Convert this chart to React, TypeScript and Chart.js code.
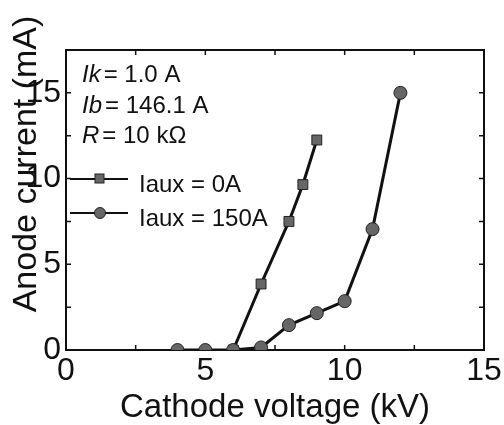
import { useEffect, useRef } from 'react';
import { Chart, registerables } from 'chart.js';

Chart.register(...registerables);

// Anode current vs cathode voltage for two auxiliary currents
const voltageAux0 = [6, 7, 8, 8.5, 9];
const currentAux0 = [0, 3.85, 7.5, 9.65, 12.25];
const voltageAux150 = [4, 5, 6, 7, 8, 9, 10, 11, 12];
const currentAux150 = [0, 0, 0, 0.15, 1.45, 2.15, 2.85, 7.05, 15.0];

const seriesLabels = ['Iaux = 0A', 'Iaux = 150A'];
const paramNames = ['Ik', 'Ib', 'R'];
const paramValues = ['= 1.0 A', '= 146.1 A', '= 10 kΩ'];
const xTitle = 'Cathode voltage (kV)';
const yTitle = 'Anode current (mA)';

const X_MIN = 0;
const X_MAX = 15;
const Y_MIN = 0;
const Y_MAX = 17.5;
const LABEL_STEP = 5;
const MINOR_STEP = 2.5;

const FONT = '"Liberation Sans", Arial, sans-serif';
const MARKER_FILL = '#666666';
const MARKER_EDGE = '#222222';

const framePlugin = {
  id: 'frame',
  beforeDatasetsDraw(chart: any) {
    const { ctx, chartArea: a, scales } = chart;
    const xs = scales.x;
    const ys = scales.y;
    ctx.save();
    ctx.strokeStyle = '#111';
    ctx.lineWidth = 2;
    ctx.strokeRect(a.left, a.top, a.right - a.left, a.bottom - a.top);
    ctx.lineWidth = 1.5;
    const len = 5;
    ctx.beginPath();
    for (let v = X_MIN; v <= X_MAX + 1e-9; v += MINOR_STEP) {
      const px = xs.getPixelForValue(v);
      ctx.moveTo(px, a.bottom);
      ctx.lineTo(px, a.bottom - len);
      ctx.moveTo(px, a.top);
      ctx.lineTo(px, a.top + len);
    }
    for (let v = Y_MIN; v <= Y_MAX + 1e-9; v += MINOR_STEP) {
      const py = ys.getPixelForValue(v);
      ctx.moveTo(a.left, py);
      ctx.lineTo(a.left + len, py);
      ctx.moveTo(a.right, py);
      ctx.lineTo(a.right - len, py);
    }
    ctx.stroke();
    ctx.restore();
  },
  afterDraw(chart: any) {
    const { ctx, chartArea: a } = chart;
    ctx.save();
    ctx.fillStyle = '#111';

    // axis titles
    ctx.font = `34px ${FONT}`;
    ctx.textAlign = 'center';
    ctx.textBaseline = 'middle';
    ctx.save();
    ctx.translate(27, 164);
    ctx.rotate(-Math.PI / 2);
    ctx.fillText(yTitle, 0, 0);
    ctx.restore();
    ctx.font = `33px ${FONT}`;
    ctx.textBaseline = 'alphabetic';
    ctx.fillText(xTitle, (a.left + a.right) / 2, 417);

    // operating parameters
    ctx.textAlign = 'left';
    const px = a.left + 16;
    paramNames.forEach((name, i) => {
      const y = a.top + 32 + i * 30.5;
      ctx.font = `italic 24px ${FONT}`;
      ctx.fillText(name, px, y);
      const w = ctx.measureText(name).width;
      ctx.font = `24px ${FONT}`;
      ctx.fillText(paramValues[i], px + w + 3, y);
    });

    // legend
    const metas = [chart.getDatasetMeta(0), chart.getDatasetMeta(1)];
    metas.forEach((meta: any, i: number) => {
      const ds = chart.data.datasets[meta.index];
      const cy = a.top + 129 + i * 34;
      ctx.strokeStyle = '#111';
      ctx.lineWidth = 2;
      ctx.beginPath();
      ctx.moveTo(a.left + 4, cy);
      ctx.lineTo(a.left + 62, cy);
      ctx.stroke();
      ctx.fillStyle = MARKER_FILL;
      ctx.strokeStyle = MARKER_EDGE;
      ctx.lineWidth = 1;
      if (ds.pointStyle === 'rect') {
        ctx.fillRect(a.left + 29, cy - 5, 9, 9);
        ctx.strokeRect(a.left + 29, cy - 5, 9, 9);
      } else {
        ctx.beginPath();
        ctx.arc(a.left + 34, cy, 5.5, 0, Math.PI * 2);
        ctx.fill();
        ctx.stroke();
      }
      ctx.fillStyle = '#111';
      ctx.font = `24px ${FONT}`;
      ctx.textBaseline = 'alphabetic';
      ctx.fillText(seriesLabels[i], a.left + 73, cy + 13);
    });
    ctx.restore();
  },
};

export default function App() {
  const canvasRef = useRef<HTMLCanvasElement | null>(null);

  useEffect(() => {
    const canvas = canvasRef.current;
    if (!canvas) return;
    const chart = new Chart(canvas, {
      type: 'line',
      data: {
        datasets: [
          {
            label: seriesLabels[0],
            data: voltageAux0.map((x, i) => ({ x, y: currentAux0[i] })),
            borderColor: '#111',
            borderWidth: 3,
            pointStyle: 'rect',
            pointRadius: 7,
            pointBackgroundColor: MARKER_FILL,
            pointBorderColor: MARKER_EDGE,
            pointBorderWidth: 1,
            tension: 0,
            clip: 0,
            order: 1,
          },
          {
            label: seriesLabels[1],
            data: voltageAux150.map((x, i) => ({ x, y: currentAux150[i] })),
            borderColor: '#111',
            borderWidth: 3,
            pointStyle: 'circle',
            pointRadius: 6.5,
            pointBackgroundColor: MARKER_FILL,
            pointBorderColor: MARKER_EDGE,
            pointBorderWidth: 1,
            tension: 0,
            clip: 0,
            order: 0,
          },
        ],
      },
      options: {
        responsive: false,
        animation: false,
        events: [],
        layout: { padding: { left: 0, top: 50, right: 20, bottom: 0 } },
        plugins: {
          legend: { display: false },
          tooltip: { enabled: false },
        },
        scales: {
          x: {
            type: 'linear',
            min: X_MIN,
            max: X_MAX,
            grid: { display: false, drawTicks: false },
            border: { display: false },
            ticks: {
              stepSize: LABEL_STEP,
              autoSkip: false,
              maxRotation: 0,
              padding: 2,
              color: '#111',
              font: { family: FONT, size: 32 },
            },
            afterFit(scale: any) {
              scale.height = 75;
            },
          },
          y: {
            type: 'linear',
            min: Y_MIN,
            max: Y_MAX,
            grid: { display: false, drawTicks: false },
            border: { display: false },
            ticks: {
              stepSize: LABEL_STEP,
              autoSkip: false,
              padding: 5,
              color: '#111',
              font: { family: FONT, size: 32 },
              callback: (v: any) => (Number(v) % LABEL_STEP === 0 ? String(v) : ''),
            },
            afterFit(scale: any) {
              scale.width = 66;
            },
          },
        },
      },
      plugins: [framePlugin],
    });
    return () => chart.destroy();
  }, []);

  return (
    <div style={{ position: 'fixed', left: 0, top: 0, width: 504, height: 425, background: '#fff' }}>
      <canvas ref={canvasRef} width={504} height={425} />
    </div>
  );
}
